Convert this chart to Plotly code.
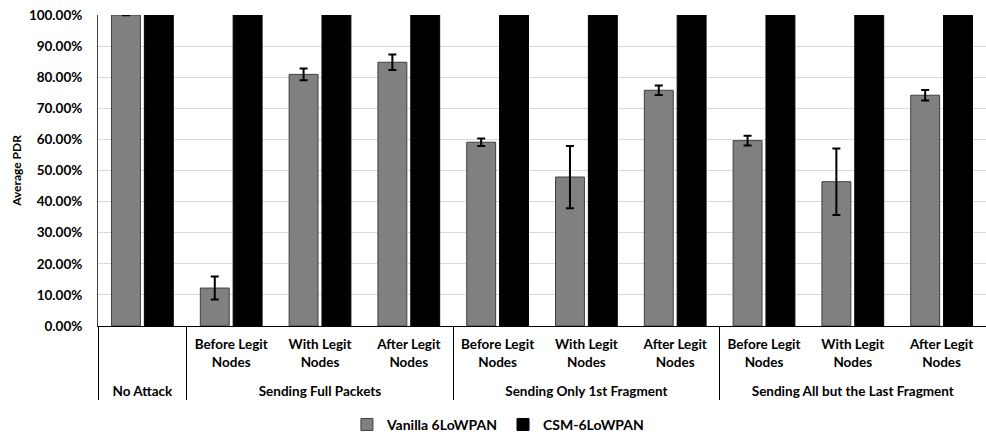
import plotly.graph_objects as go

groups = ["No Attack",
          "Sending Full Packets", "Sending Full Packets", "Sending Full Packets",
          "Sending Only 1st Fragment", "Sending Only 1st Fragment", "Sending Only 1st Fragment",
          "Sending All but the Last Fragment", "Sending All but the Last Fragment", "Sending All but the Last Fragment"]
subcats = [" ",
           "Before Legit<br>Nodes", "With Legit<br>Nodes", "After Legit<br>Nodes",
           "Before Legit<br>Nodes", "With Legit<br>Nodes", "After Legit<br>Nodes",
           "Before Legit<br>Nodes", "With Legit<br>Nodes", "After Legit<br>Nodes"]

vanilla = [1.000, 0.122, 0.809, 0.848, 0.591, 0.479, 0.758, 0.596, 0.464, 0.742]
vanilla_err = [0.001, 0.037, 0.019, 0.025, 0.012, 0.100, 0.015, 0.016, 0.107, 0.017]
csm = [1.0, 1.0, 1.0, 1.0, 1.0, 1.0, 1.0, 1.0, 1.0, 1.0]
csm_err = [0.001, 0.001, 0.001, 0.001, 0.001, 0.001, 0.001, 0.001, 0.001, 0.001]

yticks = [0, 0.1, 0.2, 0.3, 0.4, 0.5, 0.6, 0.7, 0.8, 0.9, 1.0]

font = "Lato"
outer = ["<br>" + g for g in groups]

fig = go.Figure()
fig.add_trace(go.Bar(
    name="Vanilla 6LoWPAN", x=[outer, subcats], y=vanilla,
    marker=dict(color="#808080", line=dict(color="#404040", width=1)),
    error_y=dict(type="data", array=vanilla_err, color="black", thickness=2, width=4),
))
fig.add_trace(go.Bar(
    name="CSM-6LoWPAN", x=[outer, subcats], y=csm,
    marker=dict(color="black", line=dict(color="black", width=1)),
    error_y=dict(type="data", array=csm_err, color="black", thickness=2, width=4),
))

fig.update_layout(
    width=986, height=438,
    margin=dict(l=98, r=0, t=15, b=112, autoexpand=False),
    paper_bgcolor="white", plot_bgcolor="white",
    barmode="group", bargap=0.26, bargroupgap=0.12,
    font=dict(family=font, size=13, color="black"),
    legend=dict(orientation="h", xref="container", yref="container",
                x=0.505, xanchor="center", y=0.03, yanchor="middle",
                font=dict(family=font, size=14, color="black", weight="bold"), itemwidth=30),
    showlegend=True,
)
fig.update_xaxes(
    type="multicategory", showline=True, linecolor="black", linewidth=1,
    showdividers=True, dividercolor="black", dividerwidth=1,
    tickfont=dict(family=font, size=13.5, color="black", weight="bold"),
    ticks="", automargin=False, ticklabelstandoff=6,
)
fig.update_yaxes(
    range=[0, 1.0], tickvals=yticks, tickformat=".2%",
    showgrid=True, gridcolor="#d9d9d9", gridwidth=1,
    showline=True, linecolor="#404040", linewidth=1,
    tickfont=dict(family=font, size=13.5, color="black", weight="bold"),
    title=dict(text="<b>Average PDR</b>", font=dict(family=font, size=12, color="black"), standoff=4),
    ticklabelstandoff=12, automargin=False,
)
# remove the browser's default 8px body margin so the figure fills the window exactly
fig.write_html("out.html", config={"displayModeBar": False},
               post_script="document.body.style.margin='0';")
